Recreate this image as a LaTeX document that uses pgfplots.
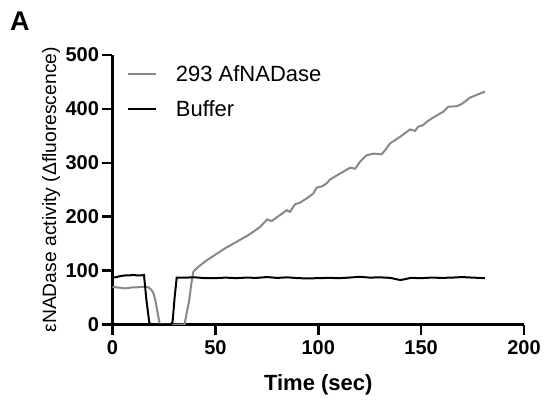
\documentclass[border=0pt]{standalone}
\usepackage{pgfplots}
\pgfplotsset{compat=1.18}
\usepackage{fontspec}
\setmainfont{Liberation Sans}
\definecolor{afgray}{RGB}{136,136,136}

\begin{document}
\begin{tikzpicture}
\useasboundingbox (-112.5bp,-81.5bp) rectangle (432.5bp,324.5bp);
\begin{axis}[
    at={(0,0)}, anchor=south west,
    scale only axis, width=411.5bp, height=269.5bp,
    xmin=0, xmax=200, ymin=0, ymax=500,
    axis lines=left,
    axis line style={-, line width=2.5bp, black},
    xtick={0,50,...,200}, ytick={0,100,...,500},
    tick align=outside, major tick length=10bp,
    tick style={line width=2.5bp, black},
    /pgf/number format/assume math mode=true,
    ticklabel style={font=\fontsize{20bp}{20bp}\selectfont\bfseries},
    xticklabel style={yshift=-3bp},
    xlabel={Time (sec)},
    xlabel style={font=\fontsize{22bp}{22bp}\selectfont\bfseries,
        at={(axis description cs:0.5,-0.2456)}, anchor=base},
    ylabel={εNADase activity (Δfluorescence)},
    ylabel style={font=\fontsize{19.3bp}{19.3bp}\selectfont,
        at={(axis description cs:-0.1373,0.5)}, anchor=base},
    legend style={draw=none, fill=none, inner sep=0pt,
        at={(axis description cs:0.0345,0.963)}, anchor=north west,
        font=\fontsize{22bp}{22bp}\selectfont,
        nodes={inner sep=0pt, anchor=west}, column sep=19bp, row sep=17.6bp},
    legend cell align=left,
    legend image code/.code={\draw[#1] (0bp,0bp) -- (28bp,0bp);},
]
\addplot[afgray, line width=2bp] coordinates {
(0,70) (2,69) (4,68) (6,67) (8,68) (10,69) (12,69) (14,70) (16,70)
(17.5,69) (19,64) (20,57) (21,42) (22,20) (23,0) (35,0) (36,20)
(37.3,45) (38.3,75) (39.3,98) (42,108) (45.8,119) (49,127) (52.2,135)
(55,142) (58.7,150) (62,157) (65.2,164) (68,171) (71.7,181) (75.2,195)
(77.4,192) (81.4,203) (84.7,212) (86.3,209) (88.7,223) (91.1,226)
(94.4,234) (97.6,243) (99.2,254) (101.7,256) (104.1,262) (105.7,269)
(110.6,280) (115.5,291) (117.9,289) (120.3,302) (123.5,314) (126.8,317)
(130.8,316) (132.4,323) (134.9,336) (139.7,348) (144.6,362) (147,359)
(148.6,367) (151,370) (152.7,376) (155.9,384) (160.8,395) (163.2,404)
(167.3,405) (169.7,409) (173.8,421) (177,426) (179,429) (181,432)
};
\addlegendentry{293 AfNADase}
\addplot[black, line width=2bp] coordinates {
(0,87) (2,88) (4,90) (6,91) (8,91) (10,92) (12,91) (14,91) (15.3,92)
(16.5,45) (17.9,3) (19,0) (28.5,0) (29.2,5) (30.2,50) (31.2,87)
(35,87) (40,87.5) (45,86) (50,86) (55,87) (60,86) (65,87) (70,86.5)
(75,88) (80,86.5) (85,87.5) (90,86) (95,85.5) (100,86) (105,86.5)
(110,86) (115,87) (120,88.5) (125,87) (130,87.5) (135,86.5) (138,84)
(140,82.5) (142,84) (145,86.5) (150,86) (155,87) (160,86.5) (165,87)
(170,88) (175,87) (178,86.5) (181,86)
};
\addlegendentry{Buffer}
\end{axis}
\node[anchor=base west, inner sep=0pt,
    font=\fontsize{27bp}{27bp}\selectfont\bfseries] at (-102.5bp,293.8bp) {A};
\end{tikzpicture}
\end{document}
